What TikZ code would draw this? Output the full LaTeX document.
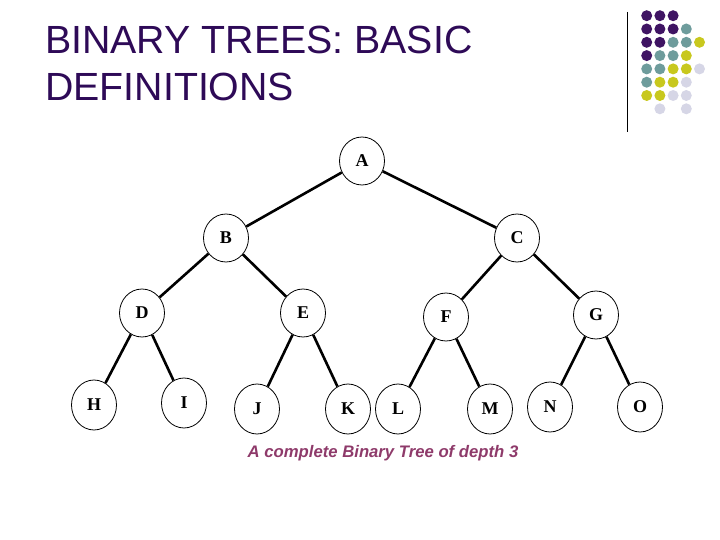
\documentclass[tikz,border=0pt]{standalone}
\usepackage{fontspec}
\setmainfont{Liberation Serif}
\setsansfont{Liberation Sans}
\usetikzlibrary{shapes.geometric}
\definecolor{titlepurple}{HTML}{2E0A57}
\definecolor{dotP}{HTML}{3F1463}
\definecolor{dotT}{HTML}{6E9C9C}
\definecolor{dotY}{HTML}{C8C81E}
\definecolor{dotL}{HTML}{D6D6E6}
\definecolor{capcol}{HTML}{8E3A6A}
\tikzset{
  tnode/.style={ellipse, draw=black, line width=0.8pt, minimum width=45pt, minimum height=48pt, inner sep=0pt, font=\fontsize{18}{18}\selectfont\bfseries},
  leaf/.style={tnode, minimum height=50pt},
  edge/.style={line width=2.6pt},
  dot/.style={circle, inner sep=0pt, minimum size=11pt},
  titletext/.style={anchor=base west, inner sep=0pt, text=titlepurple, font=\sffamily\fontsize{39.3}{39.3}\selectfont}
}
\begin{document}
\begin{tikzpicture}[x=1pt,y=-1pt]
\useasboundingbox (0,0) rectangle (720,540);
% title
\node[titletext] (t1) at (45,54) {BINARY TREES: BASIC};
\node[titletext] (t2) at (45,101) {DEFINITIONS};
% decoration
\draw[line width=1pt] (627.3,12) -- (627.3,132);
\foreach \c/\x/\y in {P/0/0,P/1/0,P/2/0,
  P/0/1,P/1/1,P/2/1,T/3/1,
  P/0/2,P/1/2,T/2/2,T/3/2,Y/4/2,
  P/0/3,T/1/3,T/2/3,Y/3/3,
  T/0/4,T/1/4,Y/2/4,Y/3/4,L/4/4,
  T/0/5,Y/1/5,Y/2/5,L/3/5,
  Y/0/6,Y/1/6,L/2/6,L/3/6,
  L/1/7,L/3/7}
  \node[dot, fill=dot\c] at (646.7+13.2*\x, 15.7+13.3*\y) {};
% tree
\node[tnode] (A) at (362,161) {A};
\node[tnode] (B) at (226,238) {B};
\node[tnode] (C) at (517,238) {C};
\node[tnode] (D) at (142,313) {D};
\node[tnode] (E) at (303,313) {E};
\node[tnode] (F) at (446,317) {F};
\node[tnode] (G) at (596,315) {G};
\node[leaf] (H) at (94,405) {H};
\node[leaf] (I) at (184,403) {I};
\node[leaf] (J) at (257,409) {J};
\node[leaf] (K) at (348,409) {K};
\node[leaf] (L) at (398,409) {L};
\node[leaf] (M) at (490,409) {M};
\node[leaf] (N) at (550,407) {N};
\node[leaf] (O) at (640,407) {O};
\foreach \p/\q in {A/B,A/C,B/D,B/E,C/F,C/G,D/H,D/I,E/J,E/K,F/L,F/M,G/N,G/O}
  \draw[edge] (\p) -- (\q);
\node[text=capcol, font=\sffamily\bfseries\itshape\fontsize{16.7}{16.7}\selectfont] (cap) at (383,453) {A complete Binary Tree of depth 3};
\end{tikzpicture}
\end{document}
